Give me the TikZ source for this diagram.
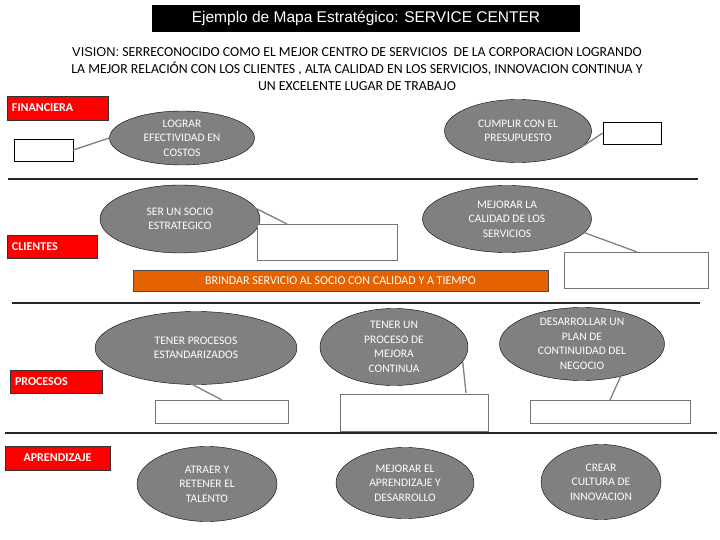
\documentclass[tikz,border=0pt]{standalone}
\usepackage{fontspec}
\setmainfont{Carlito}
\newfontfamily\arialf{Liberation Sans}
\usetikzlibrary{shapes.geometric}
\begin{document}
\begin{tikzpicture}[x=1pt,y=-1pt,
 obj/.style={ellipse,draw=black,fill=black!50,text=white,inner sep=0pt,align=center,font=\fontsize{11.5}{14.5}\selectfont},
 lab/.style={rectangle,draw=black!80,fill=red,text=white,inner xsep=5pt,inner ysep=0pt,align=left,font=\bfseries\fontsize{12}{13}\selectfont},
 ebox/.style={rectangle,draw=black!55,fill=white,inner sep=0pt},
 conn/.style={draw=black!50,line width=1.3pt},
 sep/.style={line width=2.5pt,black!85}]
\useasboundingbox (0,0) rectangle (720,540);
\node[fill=black,text=white,minimum width=428,minimum height=27,inner sep=0pt,font=\arialf\fontsize{15.5}{17}\selectfont] (title) at (366,18.5) {Ejemplo de Mapa Estratégico: SERVICE CENTER};
\node[align=center,font=\fontsize{13.8}{17}\selectfont] (vision) at (357,69) {{\arialf\fontsize{12.8}{17}\selectfont VISION:} SERRECONOCIDO COMO EL MEJOR CENTRO DE SERVICIOS \ DE LA CORPORACION LOGRANDO\\LA MEJOR RELACIÓN CON LOS CLIENTES , ALTA CALIDAD EN LOS SERVICIOS, INNOVACION CONTINUA Y\\UN EXCELENTE LUGAR DE TRABAJO};
% separators
\coordinate (s1a) at (8,179); \coordinate (s1b) at (698,179);
\coordinate (s2a) at (12,303); \coordinate (s2b) at (700,303);
\coordinate (s3a) at (5,433); \coordinate (s3b) at (717,433);
\draw[sep] (s1a) -- (s1b); \draw[sep] (s2a) -- (s2b); \draw[sep] (s3a) -- (s3b);
% labels
\node[lab,text width=91,minimum height=24] (fin) at (57.5,108) {FINANCIERA};
\node[lab,text width=80,minimum height=23] (cli) at (52,246.5) {CLIENTES};
\node[lab,text width=82,minimum height=23] (pro) at (56,381.5) {PROCESOS};
\node[lab,text width=95,minimum height=24,align=center] (apr) at (57.5,458) {APRENDIZAJE};
% financiera
\node[obj,minimum width=145,minimum height=54] (e1) at (182,138) {LOGRAR\\EFECTIVIDAD EN\\COSTOS};
\node[ebox,minimum width=59,minimum height=22,draw=black] (b1) at (43.5,150) {};
\draw[conn] (b1.east) -- (e1.west);
\node[obj,minimum width=147,minimum height=63] (e2) at (518,131) {CUMPLIR CON EL\\PRESUPUESTO};
\node[ebox,minimum width=58,minimum height=22,draw=black] (b2) at (632,133) {};
\draw[conn] (e2.-15) -- (b2.west);
% clientes
\node[obj,minimum width=160,minimum height=68] (e3) at (180,219) {SER UN SOCIO\\ESTRATEGICO};
\node[ebox,minimum width=140,minimum height=36] (b3) at (327,242) {};
\coordinate (b3t) at (287,224);
\draw[conn] (e3.40) -- (b3t);
\node[obj,minimum width=169,minimum height=67] (e4) at (507,219) {MEJORAR LA\\CALIDAD DE LOS\\SERVICIOS};
\node[ebox,minimum width=144,minimum height=36] (b4) at (636,270) {};
\coordinate (b4t) at (637,252);
\draw[conn] (e4.-10) -- (b4t);
\node[fill=orange!85!red!90!black,draw=black!70,text=white,minimum width=415,minimum height=21,inner sep=0pt,font=\fontsize{12}{13}\selectfont] (bar) at (340.5,280.5) {BRINDAR SERVICIO AL SOCIO CON CALIDAD Y A TIEMPO};
% procesos
\node[obj,minimum width=202,minimum height=73] (e5) at (196,348) {TENER PROCESOS\\ESTANDARIZADOS};
\node[ebox,minimum width=133,minimum height=23] (b5) at (221.5,411.5) {};
\draw[conn] (e5.-95) -- (b5.north);
\node[obj,minimum width=148,minimum height=77] (e6) at (394,347) {TENER UN\\PROCESO DE\\MEJORA\\CONTINUA};
\node[ebox,minimum width=148,minimum height=37] (b6) at (414,412.5) {};
\coordinate (b6t) at (466,393);
\draw[conn] (e6.-12) -- (b6t);
\node[obj,minimum width=165,minimum height=73] (e7) at (582,344) {DESARROLLAR UN\\PLAN DE\\CONTINUIDAD DEL\\NEGOCIO};
\node[ebox,minimum width=160,minimum height=23] (b7) at (610,411.5) {};
\draw[conn] (e7.-40) -- (b7.north);
% aprendizaje
\node[obj,minimum width=140,minimum height=75] (e8) at (207,484) {ATRAER Y\\RETENER EL\\TALENTO};
\node[obj,minimum width=138,minimum height=71] (e9) at (405,483) {MEJORAR EL\\APRENDIZAJE Y\\DESARROLLO};
\node[obj,minimum width=120,minimum height=75] (e10) at (601,482) {CREAR\\CULTURA DE\\INNOVACION};
\end{tikzpicture}
\end{document}
